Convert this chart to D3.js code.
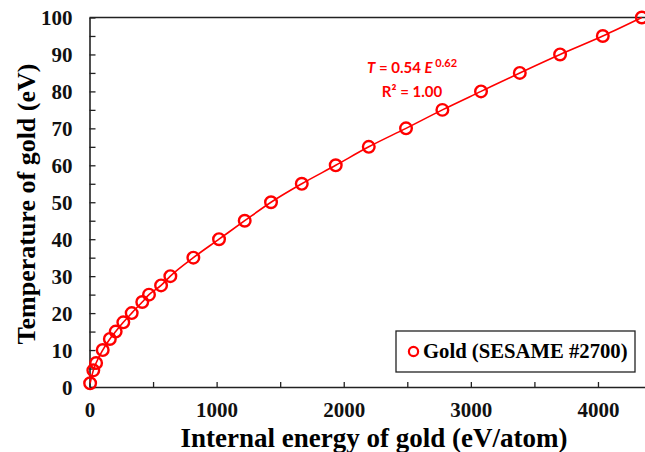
<!DOCTYPE html>
<html>
<head>
<meta charset="utf-8">
<script src="https://cdn.jsdelivr.net/npm/d3@7"></script>
<style>
	body { margin: 0; background: #fff; }
	svg { display: block; }
</style>
</head>
<body>
<div id="chart-area"></div>
<script>
// DATA
var energy = [5, 30, 52, 104, 160, 206, 266, 332, 415, 468, 563, 636, 817, 1019,
	1221, 1428, 1670, 1937, 2197, 2490, 2776, 3080, 3385, 3702, 4038, 4345];
var temperature = [1, 4.5, 6.5, 10, 13, 15, 17.5, 20, 23, 25, 27.5, 30, 35, 40,
	45, 50, 55, 60, 65, 70, 75, 80, 85, 90, 95, 100];
var xTicks = [0, 1000, 2000, 3000, 4000];
var yTicks = [0, 10, 20, 30, 40, 50, 60, 70, 80, 90, 100];
var seriesName = "Gold (SESAME #2700)";

var serif = "'Liberation Serif', 'Times New Roman', serif";

var W = 645, H = 452;
var margin = { left: 89.5, right: 0, top: 17.5, bottom: 65 };
var width = W - margin.left - margin.right,
	height = H - margin.top - margin.bottom;

var svg = d3.select("#chart-area")
	.append("svg")
	.attr("width", W)
	.attr("height", H);

var g = svg.append("g")
	.attr("transform", "translate(" + margin.left + ", " + margin.top + ")");

// SCALES
var x = d3.scaleLinear()
	.domain([0, 4370])
	.range([0, width]);

var y = d3.scaleLinear()
	.domain([0, 100])
	.range([height, 0]);

// AXES (ticks inside, minor every half step)
var xAxisCall = d3.axisBottom(x)
	.tickValues(d3.range(0, 4370, 500))
	.tickSizeInner(-5)
	.tickSizeOuter(0)
	.tickPadding(15.5)
	.tickFormat(function (d) { return xTicks.indexOf(d) >= 0 ? d : ""; });
var xAxis = g.append("g")
	.attr("transform", "translate(0," + height + ")")
	.call(xAxisCall);

var yAxisCall = d3.axisLeft(y)
	.tickValues(d3.range(0, 101, 5))
	.tickSizeInner(-6)
	.tickSizeOuter(0)
	.tickPadding(17)
	.tickFormat(function (d) { return yTicks.indexOf(d) >= 0 ? d : ""; });
var yAxis = g.append("g").call(yAxisCall);

[xAxis, yAxis].forEach(function (a) {
	a.attr("font-family", serif).attr("font-weight", "bold").attr("font-size", 21);
	a.select(".domain").attr("stroke", "#222").attr("stroke-width", 1.6);
	a.selectAll(".tick line").attr("stroke", "#222").attr("stroke-width", 1.3);
	a.selectAll(".tick text").attr("fill", "#111");
});
xAxis.selectAll(".tick text").attr("dy", "0.71em");
yAxis.selectAll(".tick text").attr("dy", "0.34em");

// top frame line
g.append("line")
	.attr("x1", 0).attr("x2", width)
	.attr("y1", 0).attr("y2", 0)
	.attr("stroke", "#222").attr("stroke-width", 1.3);

// LABELS
g.append("text")
	.attr("x", 374 - margin.left)
	.attr("y", 446.5 - margin.top)
	.attr("text-anchor", "middle")
	.attr("font-family", serif)
	.attr("font-weight", "bold")
	.attr("font-size", "27px")
	.text("Internal energy of gold (eV/atom)");

g.append("text")
	.attr("transform", "rotate(-90)")
	.attr("x", -(204 - margin.top))
	.attr("y", 35 - margin.left)
	.attr("text-anchor", "middle")
	.attr("font-family", serif)
	.attr("font-weight", "bold")
	.attr("font-size", "26px")
	.text("Temperature of gold (eV)");

// LINE + MARKERS
var pts = energy.map(function (e, i) { return [e, temperature[i]]; });
var line = d3.line()
	.x(function (d) { return x(d[0]); })
	.y(function (d) { return y(d[1]); })
	.curve(d3.curveMonotoneX);

g.append("path")
	.datum(pts)
	.attr("fill", "none")
	.attr("stroke", "#ff0000")
	.attr("stroke-width", 1.6)
	.attr("d", line);

g.selectAll("circle.pt")
	.data(pts)
	.enter()
	.append("circle")
	.attr("class", "pt")
	.attr("cx", function (d) { return x(d[0]); })
	.attr("cy", function (d) { return y(d[1]); })
	.attr("r", 5.8)
	.attr("fill", "none")
	.attr("stroke", "#ff0000")
	.attr("stroke-width", 2.4);

// FIT EQUATION
var eq = g.append("text")
	.attr("x", 412 - margin.left)
	.attr("y", 73 - margin.top)
	.attr("text-anchor", "middle")
	.attr("font-family", "Lato, sans-serif")
	.attr("font-weight", "bold")
	.attr("font-size", "15px")
	.attr("fill", "#ff0000");
eq.append("tspan").attr("font-style", "italic").text("T");
eq.append("tspan").text(" = 0.54 ");
eq.append("tspan").attr("font-style", "italic").text("E");
eq.append("tspan").attr("dy", -6).attr("font-size", "11px").text(" 0.62");

g.append("text")
	.attr("x", 412 - margin.left)
	.attr("y", 97 - margin.top)
	.attr("text-anchor", "middle")
	.attr("font-family", "Lato, sans-serif")
	.attr("font-weight", "bold")
	.attr("font-size", "15px")
	.attr("fill", "#ff0000")
	.text("R\u00b2 = 1.00");

// LEGEND
var legend = g.append("g")
	.attr("transform", "translate(" + (396 - margin.left) + "," + (331 - margin.top) + ")");
legend.append("rect")
	.attr("width", 239)
	.attr("height", 41)
	.attr("fill", "#fff")
	.attr("stroke", "#222")
	.attr("stroke-width", 1.3);
legend.append("circle")
	.attr("cx", 17.5)
	.attr("cy", 20.5)
	.attr("r", 4.6)
	.attr("fill", "none")
	.attr("stroke", "#ff0000")
	.attr("stroke-width", 2.2);
legend.append("text")
	.attr("x", 27)
	.attr("y", 27)
	.attr("font-family", serif)
	.attr("font-weight", "bold")
	.attr("font-size", "20.7px")
	.text(seriesName);
</script>
</body>
</html>
